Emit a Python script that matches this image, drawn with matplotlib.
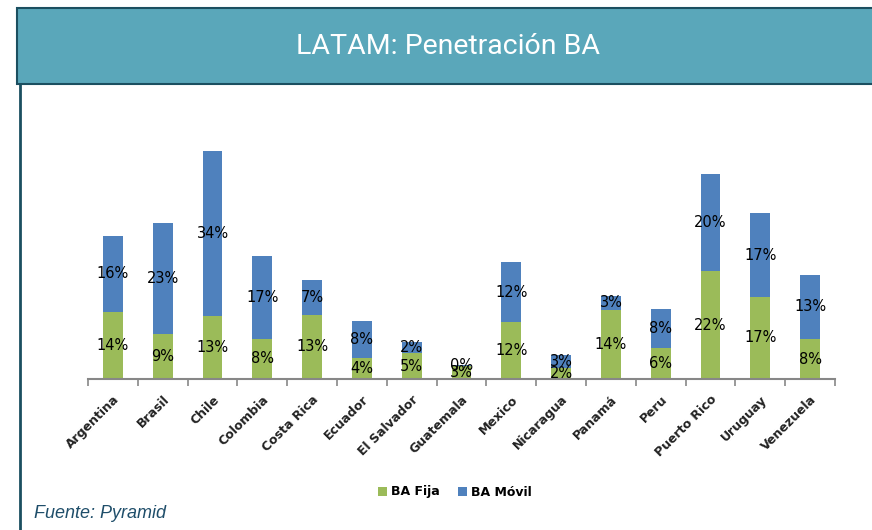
import matplotlib.pyplot as plt
from matplotlib.patches import Rectangle
from matplotlib.lines import Line2D

# data (% penetration)
countries = ['Argentina', 'Brasil', 'Chile', 'Colombia', 'Costa Rica', 'Ecuador',
             'El Salvador', 'Guatemala', 'Mexico', 'Nicaragua', 'Panamá', 'Peru',
             'Puerto Rico', 'Uruguay', 'Venezuela']
ba_fija = [14.0, 9.4, 13.1, 8.4, 13.4, 4.4, 5.4, 2.7, 11.9, 2.3, 14.4, 6.4, 22.4, 17.1, 8.3]
ba_movil = [15.8, 23.1, 34.4, 17.3, 7.3, 7.7, 2.4, 0.2, 12.4, 2.6, 2.9, 8.1, 20.2, 17.4, 13.4]

green = '#9BBB59'
blue = '#4F81BD'
dark = '#1B4F60'

W, H = 872, 530
fig = plt.figure(figsize=(W / 100, H / 100), dpi=100)

# header band
fig.patches.append(Rectangle((17 / W, 1 - 84 / H), 1.0, 76 / H, transform=fig.transFigure,
                             facecolor='#5AA7BA', edgecolor=dark, linewidth=1.5, zorder=0))
fig.lines.append(Line2D([19.5 / W, 19.5 / W], [0, 1 - 84 / H], transform=fig.transFigure,
                        color=dark, linewidth=2))
fig.text(448 / W, 1 - 47 / H, 'LATAM: Penetración BA', color='white', fontsize=20.5,
         family=['Roboto', 'DejaVu Sans'], ha='center', va='center')

ax = fig.add_axes([88 / W, 1 - 379 / H, 747 / W, 279 / H])
x = range(len(countries))
b1 = ax.bar(x, ba_fija, width=0.4, color=green, label='BA Fija', zorder=2)
b2 = ax.bar(x, ba_movil, width=0.4, bottom=ba_fija, color=blue, label='BA Móvil', zorder=2)

for i in x:
    ax.text(i, ba_fija[i] / 2, f'{round(ba_fija[i])}%', ha='center', va='center',
            fontsize=10.5, color='black')
    ax.text(i, ba_fija[i] + ba_movil[i] / 2, f'{round(ba_movil[i])}%', ha='center',
            va='center', fontsize=10.5, color='black')

ax.set_xlim(-0.5, len(countries) - 0.5)
ax.set_ylim(0, 58.1)
for s in ['top', 'right', 'left']:
    ax.spines[s].set_visible(False)
ax.spines['bottom'].set_color('#878787')
ax.spines['bottom'].set_linewidth(1.5)
ax.set_yticks([])
ax.set_xticks([i - 0.5 for i in range(len(countries) + 1)], minor=False)
ax.set_xticklabels([])
ax.tick_params(axis='x', which='major', length=5, width=1.2, color='#878787', direction='out')
ax.set_xticks(list(x), minor=True)
ax.set_xticklabels(countries, minor=True, rotation=45, ha='right', va='top',
                   rotation_mode='anchor', fontsize=9, fontweight='bold', color='#222222')
ax.tick_params(axis='x', which='minor', length=0, pad=10)

fig.legend(handles=[b1, b2], loc='center', bbox_to_anchor=(455 / W, 1 - 492 / H), ncol=2,
           frameon=False, prop={'weight': 'bold', 'size': 9},
           handlelength=0.7, handleheight=0.7, handletextpad=0.3, columnspacing=1.5)

fig.text(34 / W, 1 - 513 / H, 'Fuente: Pyramid', fontsize=13, style='italic',
         family='Liberation Sans', color='#1F4E6A', ha='left', va='center')

fig.savefig('out.png', dpi=100)
